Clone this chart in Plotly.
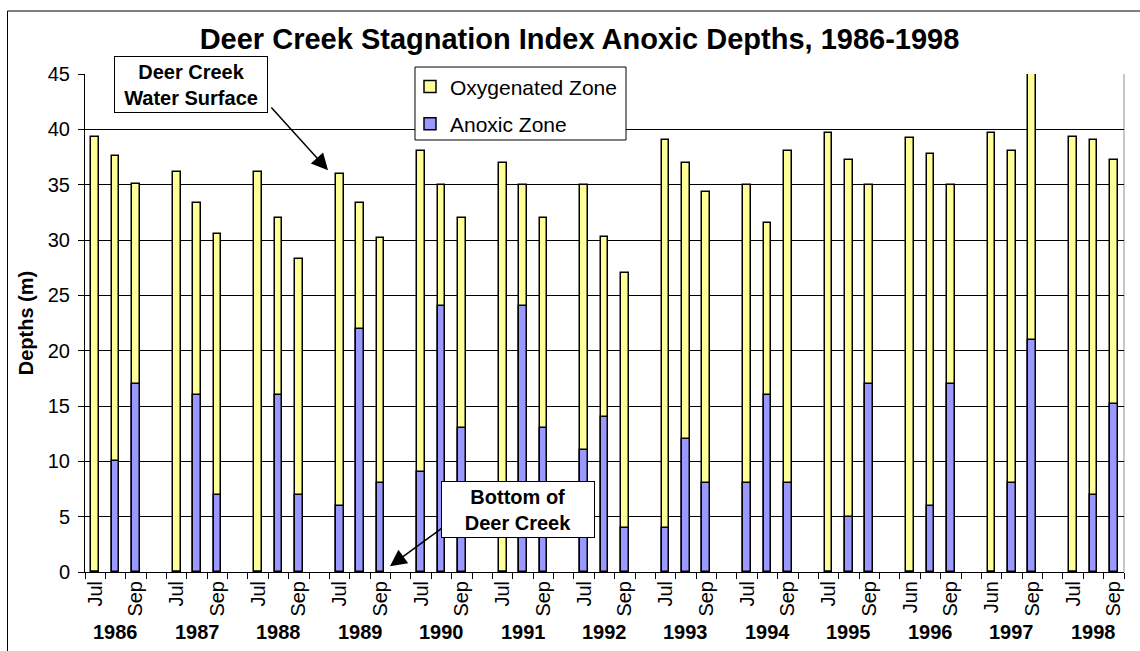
import plotly.graph_objects as go

# Survey years and the months sampled each season (first / last labelled)
years = ["1986", "1987", "1988", "1989", "1990", "1991", "1992",
         "1993", "1994", "1995", "1996", "1997", "1998"]
first_month = ["Jul", "Jul", "Jul", "Jul", "Jul", "Jul", "Jul",
               "Jul", "Jul", "Jul", "Jun", "Jun", "Jul"]
last_month = ["Sep"] * 13

# Water surface depth (top of bar) for the three samples of each year, m
surface = [
    39.3, 37.6, 35.1,
    36.1, 33.3, 30.5,
    36.1, 32.0, 28.3,
    36.0, 33.3, 30.2,
    38.0, 35.0, 32.0,
    37.0, 35.0, 32.0,
    35.0, 30.3, 27.0,
    39.0, 37.0, 34.3,
    35.0, 31.5, 38.0,
    39.7, 37.2, 35.0,
    39.2, 37.8, 35.0,
    39.7, 38.0, 45.0,
    39.3, 39.0, 37.2,
]

# Top of the anoxic zone measured from the bottom, m
anoxic = [
    0, 10, 17,
    0, 16, 7,
    0, 16, 7,
    6, 22, 8,
    9, 24, 13,
    0, 24, 13,
    11, 14, 4,
    4, 12, 8,
    8, 16, 8,
    0, 5, 17,
    0, 6, 17,
    0, 8, 21,
    0, 7, 15.2,
]

# Category slots: three samples per year followed by an empty spacer slot
SAMPLES = 3
SLOTS_PER_YEAR = 4
x_pos = [yi * SLOTS_PER_YEAR + k for yi in range(len(years)) for k in range(SAMPLES)]
n_slots = len(years) * SLOTS_PER_YEAR - 1

tick_vals, tick_text = [], []
for yi in range(len(years)):
    tick_vals += [yi * SLOTS_PER_YEAR, yi * SLOTS_PER_YEAR + 2]
    tick_text += [first_month[yi], last_month[yi]]

FONT = "Liberation Sans, Arial, sans-serif"
YELLOW = "#FFFF99"
BLUE = "#9999FF"
BAR_W = 0.38

fig = go.Figure()
fig.add_trace(go.Bar(
    x=x_pos, y=surface, name="Oxygenated Zone", width=BAR_W,
    marker=dict(color=YELLOW, line=dict(color="black", width=1.5)),
    legend="legend", cliponaxis=False,
))
fig.add_trace(go.Bar(
    x=x_pos, y=anoxic, name="Anoxic Zone", width=BAR_W,
    marker=dict(color=BLUE, line=dict(color="black", width=1.5)),
    legend="legend2", cliponaxis=False,
))

annotations = []
# Year labels under the middle sample of each year
for yi, yr in enumerate(years):
    annotations.append(dict(
        x=yi * SLOTS_PER_YEAR + 1, xref="x", y=-0.1205, yref="paper",
        text=f"<b>{yr}</b>", showarrow=False, xanchor="center", yanchor="middle",
        font=dict(family=FONT, size=20, color="black"),
    ))

# Callout arrows
annotations.append(dict(
    x=11.43, y=36.3, xref="x", yref="y", ax=8.58, ay=42.1, axref="x", ayref="y",
    text="", showarrow=True, arrowhead=2, arrowsize=2.2, arrowwidth=1.5,
    arrowcolor="black", standoff=0, startstandoff=0,
))
annotations.append(dict(
    x=14.47, y=0.52, xref="x", yref="y", ax=17.08, ay=4.04, axref="x", ayref="y",
    text="", showarrow=True, arrowhead=2, arrowsize=2.2, arrowwidth=1.5,
    arrowcolor="black", standoff=0, startstandoff=0,
))
# Callout boxes
annotations.append(dict(
    x=0.1025, y=0.978, xref="paper", yref="paper", xanchor="center", yanchor="middle",
    text="<b>Deer Creek<br>Water Surface</b>", showarrow=False,
    font=dict(family=FONT, size=20, color="black"),
    bgcolor="white", bordercolor="black", borderwidth=1, borderpad=2,
    width=148, height=51, align="center",
))
annotations.append(dict(
    x=0.4172, y=0.1245, xref="paper", yref="paper", xanchor="center", yanchor="middle",
    text="<b>Bottom of<br>Deer Creek</b>", showarrow=False,
    font=dict(family=FONT, size=20, color="black"),
    bgcolor="white", bordercolor="black", borderwidth=1, borderpad=2,
    width=148, height=51, align="center",
))

shapes = [
    # outer chart frame
    dict(type="rect", xref="paper", yref="paper", x0=-0.0746, x1=1.05, y0=-0.2, y1=1.1265,
         line=dict(color="black", width=1), fillcolor="rgba(0,0,0,0)", layer="below"),
    # right edge of plot area
    dict(type="line", xref="paper", yref="paper", x0=1, x1=1, y0=0, y1=1,
         line=dict(color="#909090", width=1), layer="below"),
    # legend box
    dict(type="rect", xref="paper", yref="paper", x0=0.3176, x1=0.5207, y0=0.8675, y1=1.014,
         line=dict(color="black", width=1), fillcolor="white", layer="above"),
]

fig.update_layout(
    width=1140, height=651,
    margin=dict(l=85, r=16, t=74, b=79),
    paper_bgcolor="white", plot_bgcolor="white",
    barmode="overlay",
    bargap=0,
    title=dict(
        text="<b>Deer Creek Stagnation Index Anoxic Depths, 1986-1998</b>",
        x=579.5 / 1140, xanchor="center", xref="container",
        y=1 - 39 / 651, yanchor="middle", yref="container",
        font=dict(family=FONT, size=29, color="black"),
    ),
    font=dict(family=FONT, color="black"),
    showlegend=True,
    legend=dict(x=0.3128, y=0.974, xanchor="left", yanchor="middle",
                bgcolor="rgba(0,0,0,0)", borderwidth=0,
                font=dict(family=FONT, size=21, color="black")),
    legend2=dict(x=0.3128, y=0.8996, xanchor="left", yanchor="middle",
                 bgcolor="rgba(0,0,0,0)", borderwidth=0,
                 font=dict(family=FONT, size=21, color="black")),
    annotations=annotations,
    shapes=shapes,
)

fig.update_xaxes(
    range=[-0.5, n_slots - 0.5],
    tickmode="array", tickvals=tick_vals, ticktext=tick_text,
    tickangle=-90, ticks="", showgrid=False, zeroline=False,
    showline=True, linecolor="black", linewidth=1,
    tickfont=dict(family=FONT, size=20, color="black"),
    minor=dict(tick0=-0.5, dtick=1, ticks="outside", ticklen=6,
               tickcolor="black", tickwidth=1, showgrid=False),
)
fig.update_yaxes(
    range=[0, 45], dtick=5, tick0=0,
    ticks="outside", ticklen=6, tickcolor="black",
    showgrid=True, gridcolor="black", gridwidth=1, zeroline=False,
    showline=True, linecolor="black", linewidth=1,
    tickfont=dict(family=FONT, size=20, color="black"),
    ticklabelstandoff=4,
    title=dict(text="<b>Depths (m)</b>", font=dict(family=FONT, size=20, color="black"),
               standoff=8),
)

fig.write_html("out.html")
